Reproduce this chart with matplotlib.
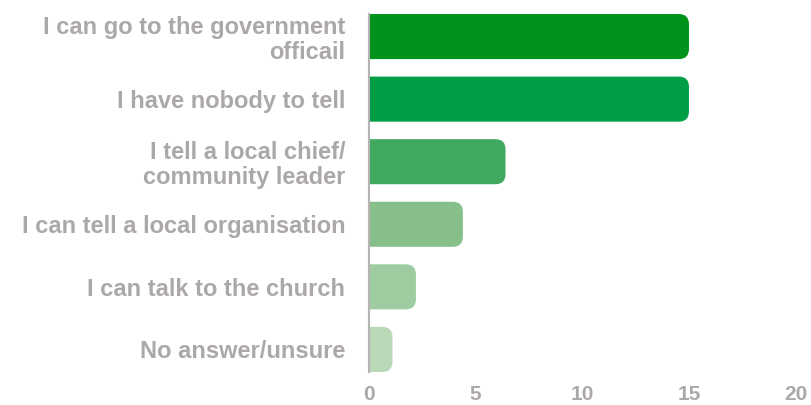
import matplotlib.pyplot as plt
from matplotlib.patches import FancyBboxPatch

labels = ['I can go to the government\nofficail',
          'I have nobody to tell',
          'I tell a local chief/\ncommunity leader',
          'I can tell a local organisation',
          'I can talk to the church',
          'No answer/unsure']
values = [15, 15, 6.4, 4.4, 2.2, 1.1]
colors = ['#00931c', '#009e45', '#41a85f', '#86bf8a', '#a0cca2', '#b8d8b8']
ticks = [0, 5, 10, 15, 20]

grey = '#aca8a8'
plt.rcParams['font.family'] = ['Liberation Sans', 'DejaVu Sans']
plt.rcParams['font.weight'] = 'bold'

fig = plt.figure(figsize=(8.11, 4.05), dpi=100)
ax = fig.add_axes([0.455, 0.06, 0.526, 0.927])

pos = list(range(len(labels)))
bh = 0.72
bars = ax.barh(pos, values, height=bh, color=colors)
ax.set_xlim(0, 20)
ax.set_ylim(5.5, -0.5)

# px per data unit, used to keep the corner round
fig.canvas.draw()
bb = ax.get_window_extent()
px_x = bb.width / 20
px_y = bb.height / 6
r_px = 10
rx = r_px / px_x
aspect = (r_px / px_y) / rx

for b, c in zip(bars, colors):
    b.set_visible(False)
    x0 = -2 * rx
    y0 = b.get_y()
    w = b.get_width() - x0
    p = FancyBboxPatch((x0, y0), w, b.get_height(),
                       boxstyle=f'round,pad=0,rounding_size={rx}',
                       mutation_aspect=aspect, facecolor=c, edgecolor='none')
    ax.add_patch(p)

for s in ['top', 'right', 'bottom']:
    ax.spines[s].set_visible(False)
ax.spines['left'].set_color('#b5b3b3')
ax.spines['left'].set_linewidth(1.5)
ax.spines['left'].set_bounds(-bh / 2, 5 + bh / 2)
ax.spines['left'].set_zorder(5)

ax.set_yticks(pos)
ax.set_yticklabels(labels, fontsize=17, color=grey, linespacing=1.12)
ax.set_xticks(ticks)
ax.set_xticklabels([str(t) for t in ticks], fontsize=15, color=grey)
ax.tick_params(axis='y', length=0, pad=17)
ax.tick_params(axis='x', length=0, pad=3)
for t in ax.get_yticklabels():
    t.set_horizontalalignment('right')

fig.savefig('out.png', dpi=100)
